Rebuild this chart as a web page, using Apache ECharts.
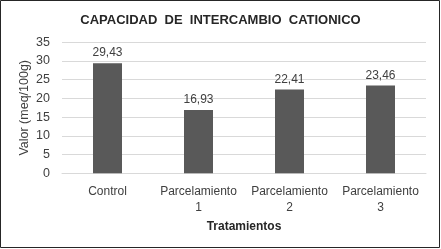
<!DOCTYPE html>
<html><head><meta charset="utf-8">
<script src="https://cdn.jsdelivr.net/npm/echarts@6/dist/echarts.min.js"></script>
<style>html,body{margin:0;padding:0;background:#fff}#c{width:441px;height:249px}</style>
</head><body><div id="c"></div>
<script>
const categories = ['Control', 'Parcelamiento\n1', 'Parcelamiento\n2', 'Parcelamiento\n3'];
const values = [29.43, 16.93, 22.41, 23.46];
const yTicks = [0, 5, 10, 15, 20, 25, 30, 35];
const titleText = 'CAPACIDAD  DE  INTERCAMBIO  CATIONICO';
const xName = 'Tratamientos';
const yName = 'Valor (meq/100g)';

const chart = echarts.init(document.getElementById('c'), null, {renderer: 'canvas'});
chart.setOption({
  animation: false,
  backgroundColor: '#fff',
  title: {
    text: titleText, left: 'center', top: 9,
    textStyle: {fontFamily: 'Liberation Sans', fontSize: 13, fontWeight: 'bold', color: '#262626'}
  },
  graphic: [{
    type: 'rect', shape: {x: 0.5, y: 0.5, width: 439, height: 247},
    style: {fill: 'none', stroke: '#262626', lineWidth: 1}, silent: true
  }],
  grid: {left: 62, right: 15, top: 42.3, bottom: 75.7, containLabel: false},
  xAxis: {
    type: 'category', data: categories,
    name: xName, nameLocation: 'middle', nameGap: 42,
    nameTextStyle: {fontFamily: 'Liberation Sans', fontSize: 12, fontWeight: 'bold', color: '#262626'},
    axisLine: {lineStyle: {color: '#d9d9d9'}},
    axisTick: {show: false},
    axisLabel: {fontFamily: 'Liberation Sans', fontSize: 12, color: '#404040', margin: 10, lineHeight: 16, interval: 0}
  },
  yAxis: {
    type: 'value', min: yTicks[0], max: yTicks[yTicks.length - 1], interval: 5,
    name: yName, nameLocation: 'middle', nameGap: 31, nameMoveOverlap: false,
    nameTextStyle: {fontFamily: 'Liberation Sans', fontSize: 12.5, color: '#404040'},
    axisLine: {show: false}, axisTick: {show: false},
    axisLabel: {fontFamily: 'Liberation Sans', fontSize: 12.5, color: '#404040', margin: 12},
    splitLine: {lineStyle: {color: '#d9d9d9'}}
  },
  series: [{
    type: 'bar', data: values, barWidth: 29,
    itemStyle: {color: '#595959'},
    label: {
      show: true, position: 'top', distance: 4,
      fontFamily: 'Liberation Sans', fontSize: 12, color: '#404040',
      formatter: p => p.value.toFixed(2).replace('.', ',')
    }
  }]
});
</script></body></html>
